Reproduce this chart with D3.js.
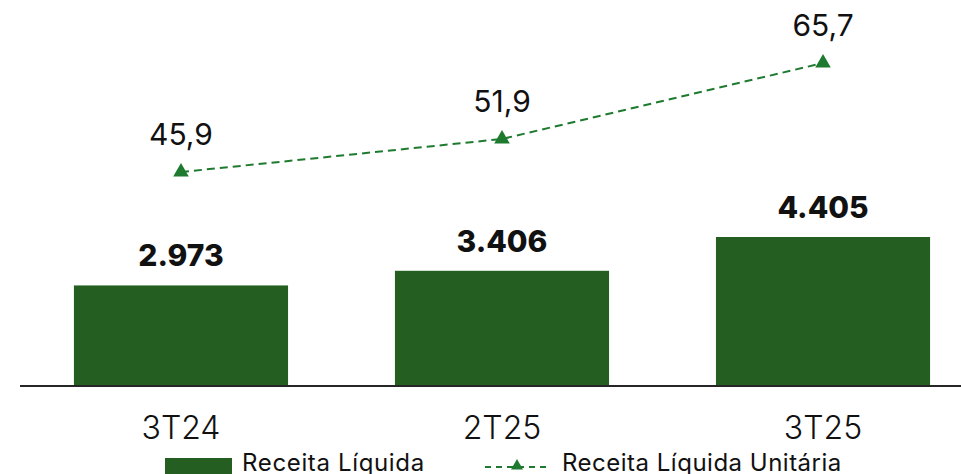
<!DOCTYPE html>
<html>
<head>
<meta charset="utf-8">
<script src="https://cdn.jsdelivr.net/npm/d3@7"></script>
<style>
  html, body { margin: 0; padding: 0; background: #fff; }
  svg { display: block; font-family: Inter, "Open Sans", sans-serif; }
</style>
</head>
<body>
<svg id="chart" width="961" height="474"></svg>
<script>
// Quarters shown on the horizontal axis
const periods = ["3T24", "2T25", "3T25"];
// Receita Líquida (bars)
const receita = [2973, 3406, 4405];
const receitaLabels = ["2.973", "3.406", "4.405"];
// Receita Líquida Unitária (dashed line with triangles)
const unitaria = [45.9, 51.9, 65.7];
const unitariaLabels = ["45,9", "51,9", "65,7"];
// Legend entries
const legendNames = ["Receita Líquida", "Receita Líquida Unitária"];

const barColor = "#245f21";
const lineColor = "#1e7a2e";

const svg = d3.select("#chart");
const baseY = 386;

const x = d3.scaleBand()
  .domain(periods)
  .range([20, 984])
  .paddingInner(0.333)
  .paddingOuter(0.168);

const yBar = d3.scaleLinear().domain([0, 4405]).range([baseY, 237]);
const yLine = d3.scaleLinear().domain([0, 77.15]).range([424.7, 0]);

const cx = d => x(d) + x.bandwidth() / 2;

// Bars
svg.append("g").selectAll("rect")
  .data(periods)
  .join("rect")
  .attr("x", d => x(d))
  .attr("y", (d, i) => yBar(receita[i]))
  .attr("width", x.bandwidth())
  .attr("height", (d, i) => baseY - yBar(receita[i]))
  .attr("fill", barColor);

// Bar value labels
svg.append("g").selectAll("text")
  .data(periods)
  .join("text")
  .attr("x", d => cx(d))
  .attr("y", (d, i) => yBar(receita[i]) - 19)
  .attr("text-anchor", "middle")
  .attr("font-size", 30)
  .attr("font-weight", 800)
  .attr("fill", "#111")
  .text((d, i) => receitaLabels[i]);

// Baseline axis with category labels
const axis = d3.axisBottom(x).tickSize(0).tickPadding(0);
const gx = svg.append("g").attr("transform", `translate(0,${baseY})`).call(axis);
gx.select(".domain").remove();
gx.selectAll(".tick text").remove();
svg.append("line")
  .attr("x1", 20).attr("x2", 961)
  .attr("y1", baseY).attr("y2", baseY)
  .attr("stroke", "#262626").attr("stroke-width", 2);

gx.selectAll(".tick").append("text")
  .attr("y", 53)
  .attr("text-anchor", "middle")
  .attr("font-size", 32)
  .attr("font-weight", 300)
  .attr("fill", "#111")
  .attr("font-family", "Inter, sans-serif")
  .text(d => d);

// Dashed unit-revenue line
const line = d3.line()
  .x((d, i) => cx(periods[i]))
  .y(d => yLine(d));

svg.append("path")
  .datum(unitaria)
  .attr("d", line)
  .attr("fill", "none")
  .attr("stroke", lineColor)
  .attr("stroke-width", 2)
  .attr("stroke-dasharray", "8,5");

const tri = d3.symbol().type(d3.symbolTriangle).size(105);
svg.append("g").selectAll("path")
  .data(unitaria)
  .join("path")
  .attr("d", tri)
  .attr("transform", (d, i) => `translate(${cx(periods[i])},${yLine(d)})`)
  .attr("fill", lineColor);

svg.append("g").selectAll("text")
  .data(unitaria)
  .join("text")
  .attr("x", (d, i) => cx(periods[i]))
  .attr("y", d => yLine(d) - 27)
  .attr("text-anchor", "middle")
  .attr("font-size", 30)
  .attr("font-weight", 400)
  .attr("fill", "#111")
  .text((d, i) => unitariaLabels[i]);

// Legend
const lg = svg.append("g");
lg.append("rect")
  .attr("x", 165).attr("y", 458)
  .attr("width", 67).attr("height", 18)
  .attr("fill", barColor);
lg.append("text")
  .attr("x", 242).attr("y", 471)
  .attr("font-size", 24).attr("font-weight", 400).attr("fill", "#111")
  .attr("letter-spacing", 0.65)
  .text(legendNames[0]);

lg.append("line")
  .attr("x1", 485).attr("x2", 548)
  .attr("y1", 467).attr("y2", 467)
  .attr("stroke", lineColor).attr("stroke-width", 2)
  .attr("stroke-dasharray", "6,5");
lg.append("path")
  .attr("d", d3.symbol().type(d3.symbolTriangle).size(62))
  .attr("transform", "translate(517,466)")
  .attr("fill", lineColor);
lg.append("text")
  .attr("x", 562).attr("y", 471)
  .attr("font-size", 24).attr("font-weight", 400).attr("fill", "#111")
  .attr("letter-spacing", 0.5)
  .text(legendNames[1]);
</script>
</body>
</html>
